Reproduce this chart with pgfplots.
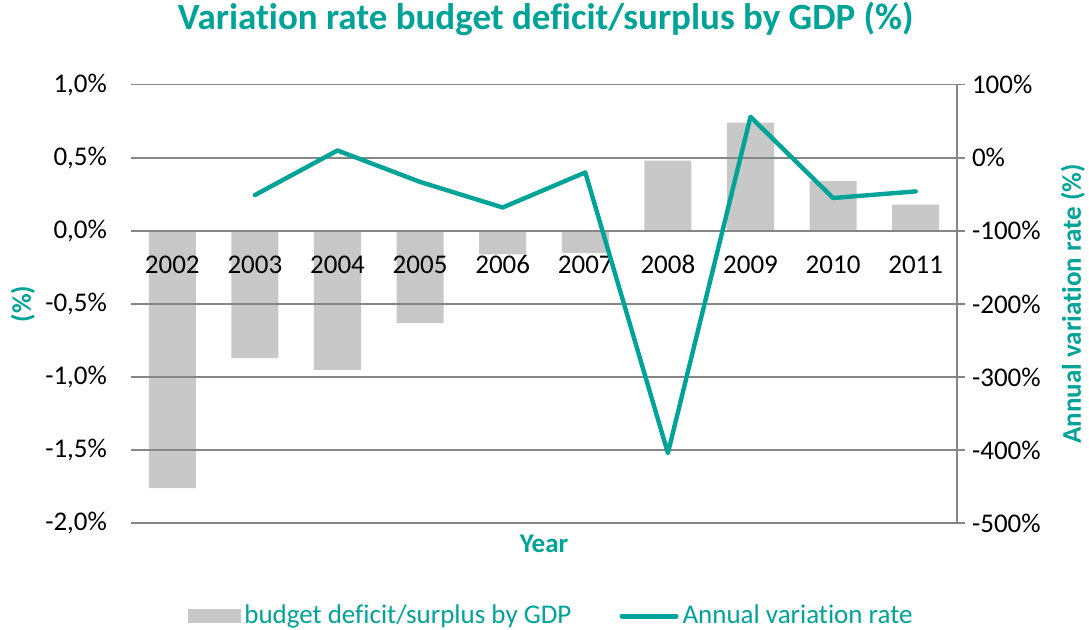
\documentclass[border=0pt]{standalone}
\usepackage{pgfplots}
\pgfplotsset{compat=1.18}
\usepackage{fontspec}
\setmainfont{Carlito}[Ligatures=NoCommon]

\definecolor{teal1}{RGB}{0,163,152}
\definecolor{barg}{RGB}{200,200,200}
\definecolor{gridg}{RGB}{134,134,134}

% budget deficit/surplus by GDP (%), 2002..2011 at x=0..9
\pgfplotstableread{
x  val
0  -1.76
1  -0.87
2  -0.95
3  -0.63
4  -0.16
5  -0.15
6  0.48
7  0.74
8  0.34
9  0.18
}\budget

% annual variation rate (%), 2003..2011
\pgfplotstableread{
x  rate
1  -51
2  10
3  -33
4  -68
5  -20
6  -404
7  56
8  -55
9  -46
}\variation

\pgfplotsset{
  common/.style={
    scale only axis,
    width=413pt, height=219.3pt,
    xmin=-0.5, xmax=9.5,
    /pgf/number format/assume math mode=true,
    tick label style={font=\fontsize{13.5}{16}\selectfont, black},
    label style={font=\fontsize{13.5}{16}\selectfont\bfseries, text=teal1},
  }
}

\begin{document}
\begin{tikzpicture}
\useasboundingbox (-65.5pt,-53.35pt) rectangle (479pt,261.65pt);

\begin{axis}[
  common,
  axis on top,
  ybar, bar width=0.57,
  ymin=-2, ymax=1,
  ytick={-2,-1.5,-1,-0.5,0,0.5,1},
  yticklabels={{-2,0\%},{-1,5\%},{-1,0\%},{-0,5\%},{0,0\%},{0,5\%},{1,0\%}},
  yticklabel style={xshift=-8.5pt},
  xtick={0,1,2,3,4,5,6,7,8,9},
  xticklabels={2002,2003,2004,2005,2006,2007,2008,2009,2010,2011},
  xticklabel style={anchor=base, yshift=125pt},
  major tick length=0pt,
  axis line style={draw=none},
  ymajorgrids,
  grid style={gridg, line width=0.8pt},
  xlabel={Year},
  xlabel style={at={(axis description cs:0.5,-0.0677)}, anchor=base},
  ylabel={(\%)},
  ylabel style={at={(axis description cs:-0.1308,0.5)}, anchor=center},
  title={Variation rate budget deficit/surplus by GDP (\%)},
  title style={at={(axis description cs:0.502,1.0974)}, anchor=base,
    font=\fontsize{18.5}{22}\selectfont\bfseries, text=teal1},
]
\addplot[fill=barg, draw=none] table[x=x, y=val] {\budget};
\end{axis}

\begin{axis}[
  common,
  axis x line=none,
  axis y line*=right,
  ymin=-500, ymax=100,
  ytick={-500,-400,-300,-200,-100,0,100},
  yticklabels={-500\%,-400\%,-300\%,-200\%,-100\%,0\%,100\%},
  tick align=outside,
  major tick length=4pt,
  ytick style={gridg, line width=0.8pt},
  y axis line style={gridg, line width=0.8pt},
  ylabel={Annual variation rate (\%)},
  ylabel style={at={(axis description cs:1.1404,0.5)}, anchor=center},
  legend columns=2,
  legend style={draw=none, fill=none,
    at={(axis description cs:0.5097,-0.2114)}, anchor=center,
    font=\fontsize{13.5}{16}\selectfont, text=teal1,
    /tikz/every even column/.append style={column sep=22pt}},
]
\addlegendimage{legend image code/.code={\fill[barg] (0pt,-3.25pt) rectangle (26pt,3.25pt);}}
\addlegendentry{budget deficit/surplus by GDP}
\addplot[teal1, line width=2.2pt, line cap=round, line join=round, mark=none,
  legend image code/.code={\draw[teal1, line width=2.5pt, line cap=round] (0pt,0pt) -- (27pt,0pt);}]
  table[x=x, y=rate] {\variation};
\addlegendentry{Annual variation rate}
\end{axis}
\end{tikzpicture}
\end{document}
